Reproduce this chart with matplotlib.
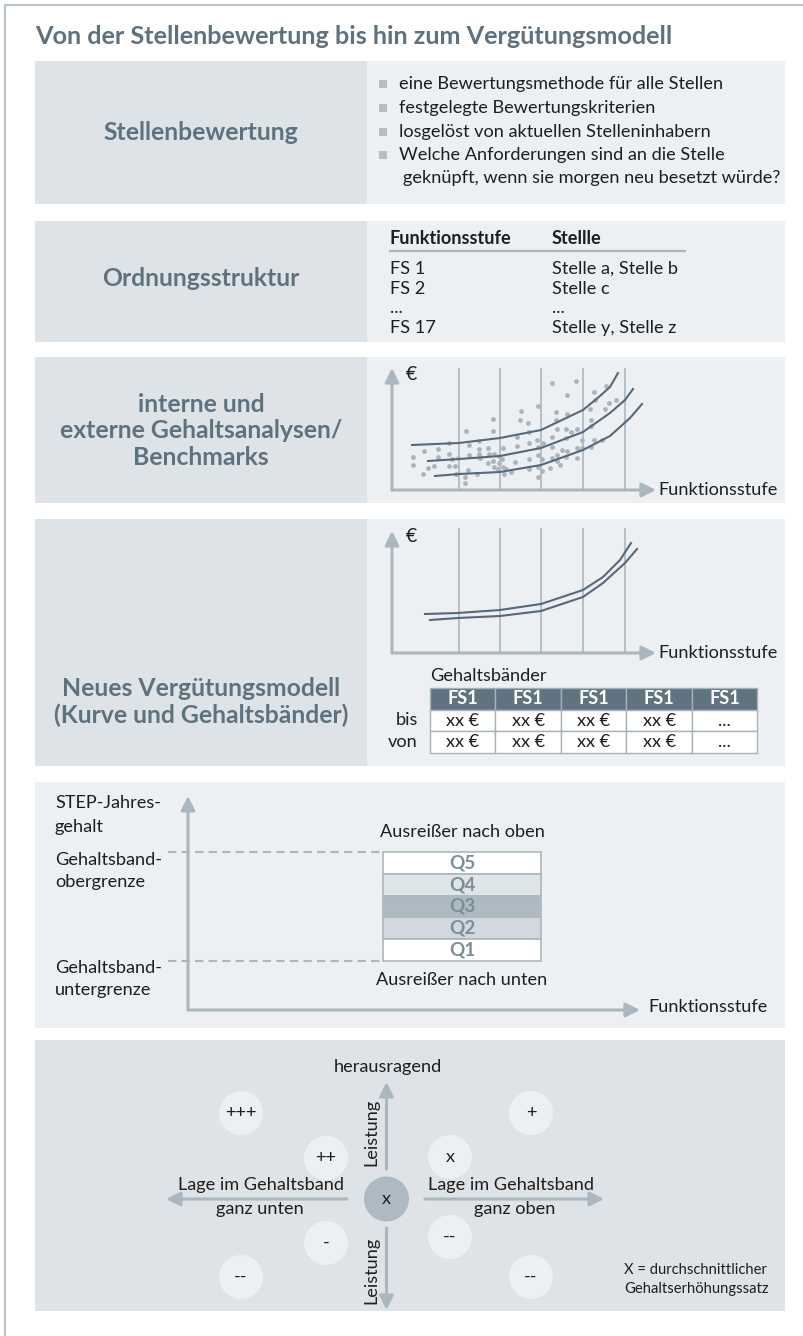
import matplotlib.pyplot as plt
from matplotlib.patches import Rectangle, Circle

plt.rcParams['font.family'] = ['Lato', 'DejaVu Sans']

# ---------------- data ----------------
title = 'Von der Stellenbewertung bis hin zum Vergütungsmodell'
row_labels = ['Stellenbewertung', 'Ordnungsstruktur',
              'interne und\nexterne Gehaltsanalysen/\nBenchmarks',
              'Neues Vergütungsmodell\n(Kurve und Gehaltsbänder)']

bullets = ['eine Bewertungsmethode für alle Stellen',
           'festgelegte Bewertungskriterien',
           'losgelöst von aktuellen Stelleninhabern',
           'Welche Anforderungen sind an die Stelle']
bullet_cont = 'geknüpft, wenn sie morgen neu besetzt würde?'

fs_header = ['Funktionsstufe', 'Stellle']
fs_rows = ['FS 1', 'FS 2', '...', 'FS 17']
stellen = ['Stelle a, Stelle b', 'Stelle c', '...', 'Stelle y, Stelle z']

# scatter of salaries (x = Funktionsstufe position, y = Gehalt)
scat_x = [160, 184, 175, 214, 202, 203, 224, 217, 213, 198, 129, 146, 164, 175, 199, 164, 128, 136,
          101, 74, 101, 137, 165, 185, 179, 174, 199, 87, 77, 57, 125, 145, 160, 174, 202, 210, 199,
          190, 125, 137, 146, 151, 160, 170, 185, 111, 96, 87, 46, 32, 21, 21, 31, 42, 46, 57, 60,
          66, 63, 57, 77, 87, 97, 102, 107, 110, 101, 88, 96, 107, 102, 111, 114, 106, 123, 137,
          146, 150, 160, 165, 175, 185, 190, 146, 158, 150, 146, 137, 119, 112, 76, 85, 73, 64, 36,
          165, 174, 168, 73]
scat_y = [107, 109, 95, 104, 98, 90, 90, 87, 81, 81, 79, 84, 78, 76, 70, 70, 70, 67, 71, 59, 59,
          58, 61, 61, 58, 61, 64, 49, 45, 47, 53, 50, 53, 52, 50, 50, 43, 50, 44, 47, 43, 47, 43,
          40, 42, 42, 42, 41, 41, 39, 33, 25, 16, 24, 33, 36, 31, 32, 24, 24, 35, 36, 36, 36, 34,
          31, 29, 32, 27, 27, 23, 23, 21, 21, 28, 31, 35, 31, 32, 35, 39, 32, 42, 23, 22, 19, 13,
          21, 18, 16, 20, 16, 13, 16, 22, 29, 33, 25, 7]

# benchmark curves (section 3)
k1_x = [20, 67, 108, 149, 191, 208, 218, 226]
k1_y = [45, 47, 52, 60, 80, 94, 103, 117]
k2_x = [36, 67, 108, 149, 191, 218, 233, 241]
k2_y = [29, 31, 34, 42, 58, 77, 90, 101]
k3_x = [43, 67, 108, 149, 191, 218, 238, 250]
k3_y = [14, 16, 18, 25, 40, 54, 72, 86]

# new pay curve (section 4)
neu_o_x = [33, 66, 108, 149, 191, 211, 228, 239]
neu_o_y = [39, 40, 43, 49, 63, 76, 93, 110]
neu_u_x = [38, 66, 108, 149, 191, 211, 233, 245]
neu_u_y = [33, 35, 37, 42, 56, 70, 90, 104]

stufen = [67, 108, 149, 191, 233]

band_cols = ['FS1', 'FS1', 'FS1', 'FS1', 'FS1']
band_bis = ['xx €', 'xx €', 'xx €', 'xx €', '...']
band_von = ['xx €', 'xx €', 'xx €', 'xx €', '...']

quartile = ['Q5', 'Q4', 'Q3', 'Q2', 'Q1']
quartile_fill = ['#ffffff', '#dfe4e7', '#adbac1', '#d1d9de', '#ffffff']

perf_labels = ['+++', '++', '-', '--', '+', 'x', '--', '--']
perf_x = [241, 326, 326, 241, 531, 450, 450, 531]
perf_y = [1113, 1158, 1243, 1277, 1113, 1157, 1237, 1277]

# ---------------- style ----------------
W, H = 804, 1336
dark_bg = '#dee3e7'
light_bg = '#ecf0f3'
slate = '#5e717e'
axis_c = '#aab7bf'
curve_c = '#56697a'
txt = '#1e1e1e'

fig = plt.figure(figsize=(W / 100, H / 100), dpi=100)
bg = fig.add_axes([0, 0, 1, 1])
bg.set_xlim(0, W)
bg.set_ylim(H, 0)
bg.axis('off')
renderer = fig.canvas.get_renderer()


def fit_size(s, width, weight='normal'):
    # font size that gives the text the width seen in the picture
    t = bg.text(0, 0, s, fontsize=10, fontweight=weight)
    w = t.get_window_extent(renderer).width
    t.remove()
    return 10 * width / w


fs_title = fit_size(title, 641, 'bold')
fs_label = fit_size('Stellenbewertung', 196, 'bold')
fs_body = fit_size(bullets[0], 324)
fs_small = fit_size('X = durchschnittlicher', 142)


def px_axes(x0, y0, x1, y1):
    ax = fig.add_axes([x0 / W, 1 - y1 / H, (x1 - x0) / W, (y1 - y0) / H])
    ax.axis('off')
    return ax


def arrow(x0, y0, x1, y1, lw=2.2):
    bg.annotate('', xy=(x1, y1), xytext=(x0, y0),
                arrowprops=dict(arrowstyle='-|>,head_length=0.7,head_width=0.35', color=axis_c,
                                lw=lw, shrinkA=0, shrinkB=0, mutation_scale=12))


def body(x, y, s, **kw):
    kw.setdefault('va', 'center')
    kw.setdefault('color', txt)
    kw.setdefault('fontsize', fs_body)
    return bg.text(x, y, s, **kw)


# frame
bg.plot([5, 5, W], [H, 5, 5], color='#b9c4cb', lw=1.6)

bg.text(35, 36, title, fontsize=fs_title, fontweight='bold', color=slate, va='center')

# ---------------- panels ----------------
panels = [(61, 204), (221, 342), (357, 503), (519, 766)]
label_y = [133, 279, 431, 702]
for (y0, y1), lab, ly in zip(panels, row_labels, label_y):
    bg.add_patch(Rectangle((35, y0), 332, y1 - y0, color=dark_bg, lw=0))
    bg.add_patch(Rectangle((367, y0), 418, y1 - y0, color=light_bg, lw=0))
    bg.text(201, ly, lab, fontsize=fs_label, fontweight='bold', color=slate, ha='center',
            va='center', linespacing=1.2)

bg.add_patch(Rectangle((35, 782), 750, 246, color=light_bg, lw=0))
bg.add_patch(Rectangle((35, 1040), 750, 271, color=dark_bg, lw=0))

# section 1: bullets
for i, b in enumerate(bullets):
    y = [84, 108, 132, 155][i]
    bg.add_patch(Rectangle((379, y - 4), 8, 8, color='#b3bec5', lw=0))
    body(399, y, b)
body(403, 178, bullet_cont)

# section 2: table
body(390, 238, fs_header[0], fontweight='bold')
body(552, 238, fs_header[1], fontweight='bold')
bg.plot([390, 685], [251, 251], color=axis_c, lw=1.6)
for i, (a, b) in enumerate(zip(fs_rows, stellen)):
    y = 269 + i * 19.7
    body(390, y, a)
    body(552, y, b)

# section 3: scatter + benchmark curves
ax3 = px_axes(392, 368, 660, 490)
ax3.set_xlim(0, 268)
ax3.set_ylim(0, 122)
ax3.vlines(stufen, 0, 122, color=axis_c, lw=1.2)
ax3.scatter(scat_x, scat_y, s=12, color='#a9b5bc', lw=0, zorder=2)
for kx, ky in [(k1_x, k1_y), (k2_x, k2_y), (k3_x, k3_y)]:
    ax3.plot(kx, ky, color=curve_c, lw=1.5, zorder=3)
arrow(392, 490, 392, 368)
arrow(392, 490, 656, 490)
body(406, 374, '€', fontsize=fs_body + 1)
body(658, 490, 'Funktionsstufe')

# section 4: new pay curve + salary bands
ax4 = px_axes(392, 528, 660, 653)
ax4.set_xlim(0, 268)
ax4.set_ylim(0, 125)
ax4.vlines(stufen, 0, 125, color=axis_c, lw=1.2)
ax4.plot(neu_o_x, neu_o_y, color=curve_c, lw=1.5)
ax4.plot(neu_u_x, neu_u_y, color=curve_c, lw=1.5)
arrow(392, 653, 392, 531)
arrow(392, 653, 656, 653)
body(406, 536, '€', fontsize=fs_body + 1)
body(658, 653, 'Funktionsstufe')

body(430, 676, 'Gehaltsbänder')
tx0, cw = 430, 65.5
rows_y = [688, 710, 731, 753]
for j, (h, b, v) in enumerate(zip(band_cols, band_bis, band_von)):
    x = tx0 + j * cw
    bg.add_patch(Rectangle((x, rows_y[0]), cw, rows_y[1] - rows_y[0], facecolor='#5f7381',
                           edgecolor='#a5b2ba', lw=1))
    bg.add_patch(Rectangle((x, rows_y[1]), cw, rows_y[2] - rows_y[1], facecolor='white',
                           edgecolor='#a5b2ba', lw=1))
    bg.add_patch(Rectangle((x, rows_y[2]), cw, rows_y[3] - rows_y[2], facecolor='white',
                           edgecolor='#a5b2ba', lw=1))
    body(x + cw / 2, (rows_y[0] + rows_y[1]) / 2, h, fontweight='bold', color='white',
         ha='center')
    body(x + cw / 2, (rows_y[1] + rows_y[2]) / 2, b, ha='center')
    body(x + cw / 2, (rows_y[2] + rows_y[3]) / 2, v, ha='center')
body(418, 720, 'bis', ha='right')
body(418, 742, 'von', ha='right')

# section 5: salary band quartiles
for txt_line, y in [('STEP-Jahres-', 803), ('gehalt', 827), ('Gehaltsband-', 860),
                    ('obergrenze', 882), ('Gehaltsband-', 968), ('untergrenze', 990)]:
    body(55, y, txt_line)
arrow(188, 1010, 188, 796)
arrow(188, 1010, 640, 1010)
body(648, 1007, 'Funktionsstufe')
bg.plot([168, 383], [852, 852], color=axis_c, lw=1.5, ls=(0, (4, 2.5)))
bg.plot([168, 383], [961, 961], color=axis_c, lw=1.5, ls=(0, (4, 2.5)))
q_h = (961 - 852) / len(quartile)
bg.bar([462] * 5, [q_h] * 5, bottom=[852 + i * q_h for i in range(5)], width=158,
       color=quartile_fill, edgecolor=axis_c, lw=1.2)
for i, q in enumerate(quartile):
    body(462, 852 + (i + 0.5) * q_h, q, fontsize=fs_body + 0.5, fontweight='bold',
         color='#7a8e9a', ha='center')
body(462, 832, 'Ausreißer nach oben', ha='center')
body(462, 980, 'Ausreißer nach unten', ha='center')

# section 6: performance vs band position
body(388, 1067, 'herausragend', ha='center')
arrow(386.5, 1169, 386.5, 1082)
arrow(386.5, 1228, 386.5, 1310)
arrow(347, 1199, 166, 1199)
arrow(425, 1199, 604, 1199)
body(371, 1132, 'Leistung', rotation=90, ha='center')
body(371, 1270, 'Leistung', rotation=90, ha='center')
bg.add_patch(Circle((386.5, 1199), 22.5, color='#adbac1', lw=0))
body(386.5, 1199, 'x', ha='center')
for lab, x, y in zip(perf_labels, perf_x, perf_y):
    bg.add_patch(Circle((x, y), 22, color='#edf0f2', lw=0))
    body(x, y, lab, ha='center')
body(261, 1185, 'Lage im Gehaltsband', ha='center')
body(260, 1209, 'ganz unten', ha='center')
body(511, 1185, 'Lage im Gehaltsband', ha='center')
body(515, 1209, 'ganz oben', ha='center')
body(624, 1270, 'X = durchschnittlicher', fontsize=fs_small)
body(624, 1289, 'Gehaltserhöhungssatz', fontsize=fs_small)

fig.savefig('out.png', dpi=100)
